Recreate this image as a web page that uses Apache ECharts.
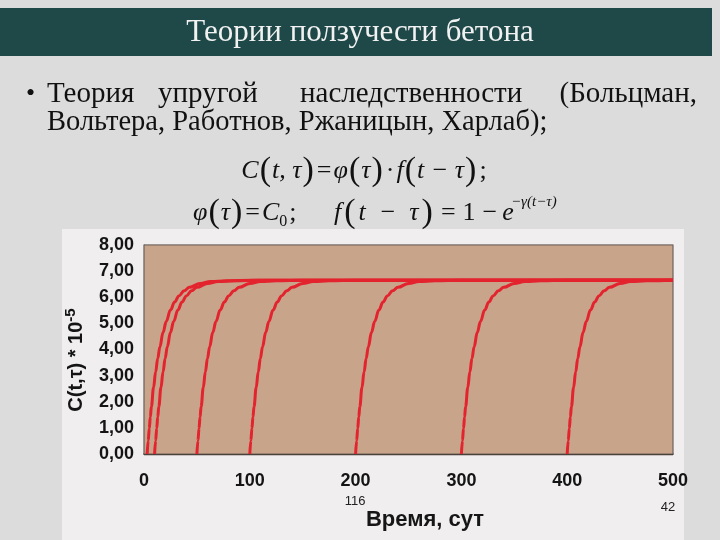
<!DOCTYPE html>
<html><head><meta charset="utf-8">
<script src="https://cdn.jsdelivr.net/npm/echarts@6/dist/echarts.min.js"></script>
<style>html,body{margin:0;padding:0;background:#dcdcdc;} #c{width:720px;height:540px;}</style>
</head><body><div id="c"></div>
<script>
// Ages at loading (days) where each creep curve starts
const loadAges = [3, 10, 50, 100, 200, 300, 400];
// Days after loading, and creep measure C(t,τ)*10^-5
const offsetDays  = [0, 1, 2, 3, 4, 6, 8, 10, 12, 15, 18, 22, 26, 30, 35, 40, 50, 60, 75, 100];
const creepValues = [0, 0.51, 0.98, 1.42, 1.82, 2.54, 3.14, 3.66, 4.10, 4.65, 5.07, 5.51, 5.82, 6.05, 6.25, 6.38, 6.53, 6.60, 6.63, 6.65];
const xTickLabels = ['0', '100', '200', '300', '400', '500'];
const yTickLabels = ['0,00', '1,00', '2,00', '3,00', '4,00', '5,00', '6,00', '7,00', '8,00'];

const chart = echarts.init(document.getElementById('c'), null, {renderer: 'canvas'});

const series = loadAges.map(age => {
  const pts = [];
  offsetDays.forEach((d, i) => { if (age + d <= 500) pts.push([age + d, creepValues[i]]); });
  const last = pts[pts.length - 1];
  if (last[0] < 500) pts.push([500, creepValues[creepValues.length - 1]]);
  return {
    type: 'line', data: pts, smooth: 0.4, smoothMonotone: 'x', showSymbol: false,
    lineStyle: {color: '#e3232d', width: 3}, z: 5
  };
});

const serif = '"Liberation Serif", "Times New Roman", serif';
const sans = '"Liberation Sans", Arial, sans-serif';
const mathRich = {
  i: {fontFamily: serif, fontStyle: 'italic', fontSize: 26, fill: '#111'},
  p: {fontFamily: serif, fontSize: 34, fill: '#111', padding: [0, 1]},
  q: {fontFamily: serif, fontSize: 34, fill: '#111', padding: [0, 3]},
  o: {fontFamily: serif, fontSize: 26, fill: '#111', padding: [0, 2]},
  w: {fontFamily: serif, fontSize: 26, fill: '#111', padding: [0, 5]},
  s: {fontFamily: serif, fontSize: 16, fill: '#111', verticalAlign: 'bottom', padding: [16, 0, 0, 0]}
};

chart.setOption({
  backgroundColor: '#dcdcdc',
  animation: false,
  grid: {left: 144, right: 47, top: 245, bottom: 86, show: true,
         backgroundColor: '#c8a48b', borderColor: '#6f625c', borderWidth: 1.2, z: 2},
  xAxis: {
    type: 'value', min: 0, max: 500, interval: 100,
    axisLine: {show: true, lineStyle: {color: '#1a1a1a', width: 1.5}},
    axisTick: {show: false}, splitLine: {show: false},
    axisLabel: {margin: 18, fontFamily: sans, fontWeight: 'bold', fontSize: 18, color: '#141414',
      formatter: v => xTickLabels[Math.round(v / 100)]}
  },
  yAxis: {
    type: 'value', min: 0, max: 8, interval: 1,
    axisLine: {show: true, lineStyle: {color: '#6f625c', width: 1.2}},
    axisTick: {show: false},
    splitLine: {show: true, lineStyle: {color: '#4a3628', width: 1.4}},
    axisLabel: {margin: 10, fontFamily: sans, fontWeight: 'bold', fontSize: 18, color: '#141414',
      formatter: v => yTickLabels[Math.round(v)]}
  },
  graphic: [
    {type: 'rect', z: -10, shape: {x: 62, y: 229, width: 622, height: 311}, style: {fill: '#f1eeef'}},
    {type: 'rect', z: 1, shape: {x: 0, y: 8, width: 712, height: 48}, style: {fill: '#1f4848'}},
    {type: 'text', z: 3, x: 360, y: 33, style: {text: 'Теории ползучести бетона', font: '31px ' + serif,
      fill: '#f2f2f2', align: 'center', verticalAlign: 'middle'}},
    // bullet line 1 (justified)
    {type: 'text', x: 26, y: 94, style: {text: '•', font: '26px ' + serif, fill: '#111', verticalAlign: 'middle'}},
    {type: 'text', x: 47, y: 94, style: {text: 'Теория', font: '29px ' + serif, fill: '#111', verticalAlign: 'middle'}},
    {type: 'text', x: 158, y: 94, style: {text: 'упругой', font: '29px ' + serif, fill: '#111', verticalAlign: 'middle'}},
    {type: 'text', x: 300, y: 94, style: {text: 'наследственности', font: '29px ' + serif, fill: '#111', verticalAlign: 'middle'}},
    {type: 'text', x: 697, y: 94, style: {text: '(Больцман,', font: '29px ' + serif, fill: '#111', align: 'right', verticalAlign: 'middle'}},
    {type: 'text', x: 47, y: 123, style: {text: 'Вольтера, Работнов, Ржаницын, Харлаб);', font: '28.5px ' + serif, fill: '#111', verticalAlign: 'middle'}},
    // formula 1
    {type: 'text', x: 365, y: 171, style: {
      text: '{i|C}{p|(}{i|t, τ}{p|)}{o|=}{i|φ}{p|(}{i|τ}{p|)}{o|·}{i|f}{p|(}{i|t − τ}{p|)}{o|;}',
      align: 'center', verticalAlign: 'middle', rich: mathRich}},
    // formula 2
    {type: 'text', x: 193, y: 213, style: {
      text: '{i|φ}{p|(}{i|τ}{p|)}{o|=}{i|C}{s|0}{o|;}',
      align: 'left', verticalAlign: 'middle', rich: mathRich}},
    {type: 'text', x: 334, y: 213, style: {
      text: '{i|f}{q|(}{i|t  −  τ}{q|)}{w|=}{o|1}{w|−}{i|e}',
      align: 'left', verticalAlign: 'middle', rich: mathRich}},
    {type: 'text', x: 511, y: 202, style: {text: '−γ(t−τ)', fontFamily: serif, fontStyle: 'italic', fontSize: 15,
      fill: '#111', verticalAlign: 'middle'}},
    // y axis title
    {type: 'text', x: 76, y: 360, rotation: Math.PI / 2, style: {
      text: '{a|C(t,τ) * 10}{b|-5}', align: 'center', verticalAlign: 'middle',
      rich: {a: {fontFamily: sans, fontWeight: 'bold', fontSize: 20, fill: '#141414'},
             b: {fontFamily: sans, fontWeight: 'bold', fontSize: 15, fill: '#141414', verticalAlign: 'top', padding: [0, 0, 10, 0]}}}},
    // x axis title
    {type: 'text', x: 425, y: 520, style: {text: 'Время, сут', font: 'bold 22px ' + sans, fill: '#161616',
      align: 'center', verticalAlign: 'middle'}},
    {type: 'text', x: 355, y: 501, style: {text: '116', font: '13px ' + sans, fill: '#222', align: 'center', verticalAlign: 'middle'}},
    {type: 'text', x: 668, y: 507, style: {text: '42', font: '13px ' + sans, fill: '#222', align: 'center', verticalAlign: 'middle'}}
  ],
  series: series
});
</script></body></html>
